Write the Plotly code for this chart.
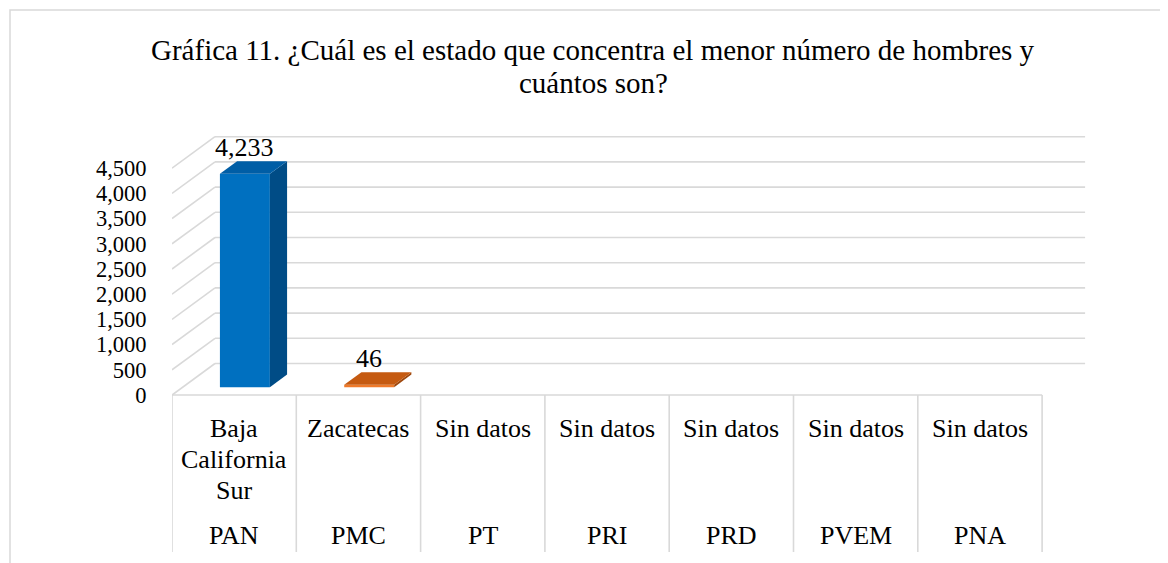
import plotly.graph_objects as go

# ---------------- data ----------------
partidos = ["PAN", "PMC", "PT", "PRI", "PRD", "PVEM", "PNA"]
estados = ["Baja<br>California<br>Sur", "Zacatecas", "Sin datos", "Sin datos",
           "Sin datos", "Sin datos", "Sin datos"]
hombres = [4233, 46, None, None, None, None, None]
y_ticks = [0, 500, 1000, 1500, 2000, 2500, 3000, 3500, 4000, 4500]
titulo = ["Gráfica 11. ¿Cuál es el estado que concentra el menor número de hombres y",
          "cuántos son?"]

# face colours per bar (front, top, side)
col_frente = ["#0070C0", "#EF7A2A"]
col_arriba = ["#005EA6", "#C55A11"]
col_lado = ["#004C86", "#9E470C"]

# ---------------- geometry (pseudo 3-D) ----------------
W, H = 1168, 563
OFF = 8                       # page body margin in the browser
FONT = "Liberation Serif"
GRID = "#D9D9D9"
PLOT_L, PLOT_R = 172 - OFF, 1090 - OFF
PLOT_T, PLOT_B = 130 - OFF, 555 - OFF
CAT_PX = 124.3
Y0_PX = 395.0 - OFF
PX_PER_UNIT = 0.0504
DX = 43 / CAT_PX              # depth offset in category units
DY = 31.5 / PX_PER_UNIT       # depth offset in value units
D0, D1 = 0.25, 0.65           # bar depth span (fraction of wall depth)
HW = 0.201                    # half bar width (category units)

x_min = -0.5
x_max = x_min + (PLOT_R - PLOT_L) / CAT_PX
y_max = (Y0_PX - PLOT_T) / PX_PER_UNIT
y_min = (Y0_PX - PLOT_B) / PX_PER_UNIT
n = len(partidos)


def px_x(p):
    return (p - OFF - PLOT_L) / (PLOT_R - PLOT_L)


def px_y(p):
    return (PLOT_B - (p - OFF)) / (PLOT_B - PLOT_T)


def val_at_px(p):
    return (Y0_PX - (p - OFF)) / PX_PER_UNIT


fig = go.Figure()
shapes = []
line_style = dict(color=GRID, width=1.6)

# gridlines: side wall diagonal + back wall horizontal
for v in y_ticks:
    shapes.append(dict(type="line", xref="x", yref="y", layer="below",
                       x0=x_min, y0=v, x1=x_min + DX, y1=v + DY, line=line_style))
    shapes.append(dict(type="line", xref="x", yref="y", layer="below",
                       x0=x_min + DX, y0=v + DY, x1=n - 0.5 + DX, y1=v + DY,
                       line=line_style))

# category table below the floor
y_table_bottom = val_at_px(552)
shapes.append(dict(type="line", xref="x", yref="y", layer="below",
                   x0=x_min, y0=0, x1=n - 0.5, y1=0, line=line_style))
for i in range(n + 1):
    shapes.append(dict(type="line", xref="x", yref="y", layer="below",
                       x0=x_min + i, y0=0, x1=x_min + i, y1=y_table_bottom,
                       line=line_style))

# outer chart border
shapes.append(dict(type="rect", xref="paper", yref="paper",
                   x0=px_x(10), y0=px_y(620), x1=px_x(1220), y1=px_y(10),
                   line=dict(color=GRID, width=1.5), fillcolor="rgba(0,0,0,0)",
                   layer="below"))

# bars
annotations = []
for i, v in enumerate(hombres):
    if v is None:
        continue
    xl0 = i - HW + D0 * DX
    xr0 = i + HW + D0 * DX
    xl1 = i - HW + D1 * DX
    xr1 = i + HW + D1 * DX
    b0, b1 = D0 * DY, D1 * DY
    # front face
    fig.add_trace(go.Bar(x=[i + D0 * DX], y=[v], base=[b0], width=[2 * HW],
                         marker=dict(color=col_frente[i], line=dict(width=0)),
                         showlegend=False, hoverinfo="skip"))
    # side face
    fig.add_trace(go.Scatter(x=[xr0, xr1, xr1, xr0, xr0],
                             y=[b0, b1, v + b1, v + b0, b0],
                             fill="toself", fillcolor=col_lado[i], mode="lines",
                             line=dict(width=0, color=col_lado[i]),
                             showlegend=False, hoverinfo="skip"))
    # top face
    fig.add_trace(go.Scatter(x=[xl0, xr0, xr1, xl1, xl0],
                             y=[v + b0, v + b0, v + b1, v + b1, v + b0],
                             fill="toself", fillcolor=col_arriba[i], mode="lines",
                             line=dict(width=0, color=col_arriba[i]),
                             showlegend=False, hoverinfo="skip"))
    annotations.append(dict(x=i + D0 * DX, y=v + b1, xref="x", yref="y",
                            text=f"{v:,}", showarrow=False, yanchor="bottom",
                            yshift=-3, font=dict(family=FONT, size=26, color="black")))

# category labels (each line placed separately for tight line spacing)
LINE_GAP = 31
for i in range(n):
    for k, linea in enumerate(estados[i].split("<br>")):
        annotations.append(dict(x=i, y=val_at_px(428 + k * LINE_GAP), xref="x", yref="y",
                                text=linea, showarrow=False, yanchor="middle",
                                font=dict(family=FONT, size=26, color="black")))
    annotations.append(dict(x=i, y=val_at_px(535), xref="x", yref="y",
                            text=partidos[i], showarrow=False, yanchor="middle",
                            font=dict(family=FONT, size=26, color="black")))

# title, two lines
for k, linea in enumerate(titulo):
    annotations.append(dict(x=px_x(593), y=px_y(50 + k * 33), xref="paper", yref="paper",
                            text=linea, showarrow=False, xanchor="center",
                            yanchor="middle",
                            font=dict(family=FONT, size=29, color="black")))

fig.update_layout(
    width=W, height=H,
    margin=dict(l=PLOT_L, r=W - PLOT_R, t=PLOT_T, b=H - PLOT_B),
    paper_bgcolor="white", plot_bgcolor="white",
    barmode="overlay", showlegend=False,
    xaxis=dict(range=[x_min, x_max], visible=False, fixedrange=True),
    yaxis=dict(range=[y_min, y_max], tickvals=y_ticks,
               ticktext=[f"{t:,}" for t in y_ticks],
               showgrid=False, zeroline=False, showline=False,
               ticks="outside", ticklen=20, tickcolor="rgba(0,0,0,0)",
               tickfont=dict(family=FONT, size=22.5, color="black"), fixedrange=True),
    annotations=annotations,
    shapes=shapes,
)

fig.write_html("out.html")
